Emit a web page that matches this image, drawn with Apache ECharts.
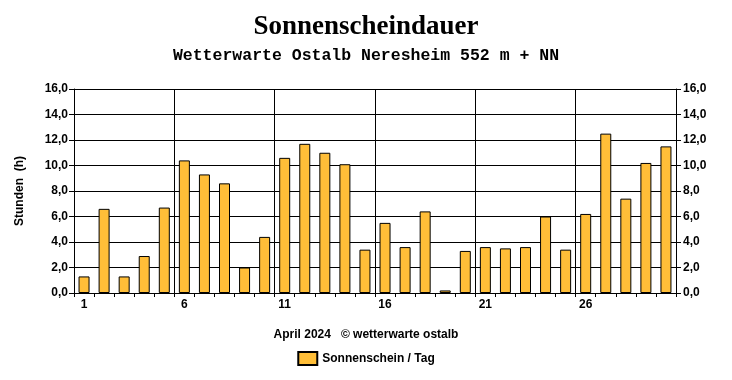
<!DOCTYPE html>
<html><head><meta charset="utf-8">
<script src="https://cdn.jsdelivr.net/npm/echarts@6/dist/echarts.min.js"></script>
<style>html,body{margin:0;padding:0;background:#fff}#c{width:732px;height:380px}</style>
</head><body><div id="c"></div>
<script>
const days = Array.from({length:30},(_,i)=>String(i+1));
const sunshine = [1.3,6.6,1.3,2.9,6.7,10.4,9.3,8.6,2.0,4.4,10.6,11.7,11.0,10.1,3.4,5.5,3.6,6.4,0.2,3.3,3.6,3.5,3.6,6.0,3.4,6.2,12.5,7.4,10.2,11.5];
const yTicks = {min:0,max:16,interval:2};

const barColor = '#FFBE38';

const lbl = {color:'#000',fontFamily:'Liberation Sans, Arial',fontWeight:'bold',fontSize:12};
const fmt = v => v.toFixed(1).replace('.',',');

const chart = echarts.init(document.getElementById('c'),null,{renderer:'canvas'});
chart.setOption({
  animation:false,
  backgroundColor:'#fff',
  title:[
    {text:'Sonnenscheindauer',left:'center',top:9,textStyle:{fontFamily:'Liberation Serif, Times New Roman',fontWeight:'bold',fontSize:27,color:'#000'}},
    {text:'Wetterwarte Ostalb Neresheim 552 m + NN',left:'center',top:42,textStyle:{fontFamily:'Liberation Mono, Courier New',fontWeight:'bold',fontSize:16.5,color:'#000'}},
    {text:'April 2024   \u00a9 wetterwarte ostalb',left:'center',top:324,textStyle:{fontFamily:'Liberation Sans, Arial',fontWeight:'bold',fontSize:12,color:'#000'}}
  ],
  legend:{bottom:9,left:'center',icon:'rect',itemWidth:19,itemHeight:13,itemGap:10,
    textStyle:{fontFamily:'Liberation Sans, Arial',fontWeight:'bold',fontSize:12,color:'#000'},
    data:['Sonnenschein / Tag']},
  grid:{left:74,right:56,top:89,bottom:87,containLabel:false},
  xAxis:{type:'category',data:days,boundaryGap:true,
    axisLine:{lineStyle:{color:'#000',width:1}},
    axisTick:{show:true,interval:0,length:4,lineStyle:{color:'#000'}},
    axisLabel:Object.assign({interval:4,margin:6},lbl),
    splitLine:{show:true,interval:4,lineStyle:{color:'#000',width:1}}},
  yAxis:[
    {type:'value',min:yTicks.min,max:yTicks.max,interval:yTicks.interval,position:'left',
     name:'Stunden  (h)',nameLocation:'middle',nameRotate:90,nameGap:48,
     nameTextStyle:lbl,
     axisLine:{show:true,lineStyle:{color:'#000'}},
     axisTick:{show:true,length:5,lineStyle:{color:'#000'}},
     axisLabel:Object.assign({formatter:fmt,margin:6},lbl),
     splitLine:{show:true,lineStyle:{color:'#000',width:1}}},
    {type:'value',min:yTicks.min,max:yTicks.max,interval:yTicks.interval,position:'right',
     axisLine:{show:true,lineStyle:{color:'#000'}},
     axisTick:{show:true,length:5,lineStyle:{color:'#000'}},
     axisLabel:Object.assign({formatter:fmt,margin:7},lbl),
     splitLine:{show:false}}
  ],
  series:[{name:'Sonnenschein / Tag',type:'bar',data:sunshine,barWidth:11,
    itemStyle:{color:barColor,borderColor:'#000',borderWidth:1}}]
});
</script></body></html>
